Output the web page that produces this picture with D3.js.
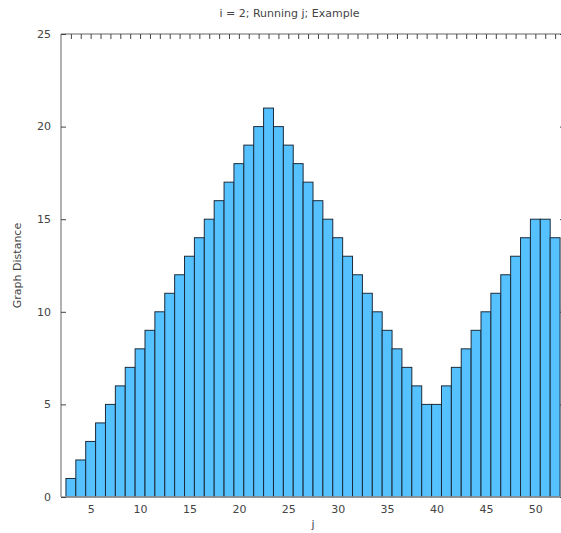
<!DOCTYPE html>
<html><head><meta charset="utf-8">
<script src="https://cdn.jsdelivr.net/npm/d3@7"></script>
<style>
body{margin:0;background:#fff;}
text{font-family:"DejaVu Sans",sans-serif;}
</style></head>
<body><svg id="c" width="561" height="533"></svg>
<script>
const jValues = d3.range(3, 53);
const distances = [1,2,3,4,5,6,7,8,9,10,11,12,13,14,15,16,17,18,19,20,21,20,19,18,17,16,15,14,13,12,11,10,9,8,7,6,5,5,6,7,8,9,10,11,12,13,14,15,15,14];
const xTicks = [5,10,15,20,25,30,35,40,45,50];
const yTicks = [0,5,10,15,20,25];
const title = "i = 2; Running j; Example";
const xLabel = "j";
const yLabel = "Graph Distance";

const svg = d3.select("#c");
const L = 61, R = 565, T = 34, B = 497;
const x = d3.scaleLinear().domain([2, 53]).range([L, R]);
const y = d3.scaleLinear().domain([0, 25]).range([B, T]);
const data = jValues.map((j, i) => ({j, v: distances[i]}));

// bars
svg.append("g").selectAll("rect").data(data).join("rect")
  .attr("x", d => x(d.j - 0.5))
  .attr("width", d => x(d.j + 0.5) - x(d.j - 0.5))
  .attr("y", d => y(d.v))
  .attr("height", d => y(0) - y(d.v))
  .attr("fill", "#56c1ff")
  .attr("stroke", "#1b2b3a")
  .attr("stroke-width", 1);

const axisColor = "#999";
// frame lines
svg.append("line").attr("x1", L).attr("x2", L).attr("y1", T).attr("y2", B).attr("stroke", axisColor).attr("stroke-width", 1.5);
svg.append("line").attr("x1", L).attr("x2", R).attr("y1", B).attr("y2", B).attr("stroke", axisColor).attr("stroke-width", 1.5);
svg.append("line").attr("x1", L).attr("x2", R).attr("y1", T).attr("y2", T).attr("stroke", axisColor).attr("stroke-width", 1.5);
svg.append("line").attr("x1", R).attr("x2", R).attr("y1", T).attr("y2", B).attr("stroke", axisColor).attr("stroke-width", 1.5);

// top ticks at every j
const topAxis = d3.axisBottom(x).tickValues(jValues).tickSize(5).tickFormat("");
const gTop = svg.append("g").attr("transform", `translate(0,${T})`).call(topAxis);
gTop.select(".domain").remove();
gTop.selectAll("line").attr("stroke", "#444");

// bottom axis labels
const bottomAxis = d3.axisBottom(x).tickValues(xTicks).tickSize(0).tickPadding(8);
const gB = svg.append("g").attr("transform", `translate(0,${B})`).call(bottomAxis);
gB.select(".domain").remove();
gB.selectAll("text").attr("fill", "#444").attr("font-size", 11).attr("font-family", "DejaVu Sans, sans-serif");

// left axis
const leftAxis = d3.axisRight(y).tickValues(yTicks).tickSize(5).tickFormat("");
const gL = svg.append("g").attr("transform", `translate(${L},0)`).call(leftAxis);
gL.select(".domain").remove();
gL.selectAll("line").attr("stroke", "#444");
svg.append("g").selectAll("text").data(yTicks).join("text")
  .attr("x", L - 10).attr("y", d => y(d)).attr("dy", "0.35em")
  .attr("text-anchor", "end").attr("font-size", 11).attr("fill", "#444")
  .text(d => d);

// right axis ticks
const rightAxis = d3.axisLeft(y).tickValues(yTicks).tickSize(5).tickFormat("");
const gR = svg.append("g").attr("transform", `translate(${R},0)`).call(rightAxis);
gR.select(".domain").remove();
gR.selectAll("line").attr("stroke", "#444");

// titles
svg.append("text").attr("x", 289.5).attr("y", 17).attr("text-anchor", "middle")
  .attr("font-size", 11).attr("fill", "#444").text(title);
svg.append("text").attr("x", x(27.5)).attr("y", 528).attr("text-anchor", "middle")
  .attr("font-size", 11).attr("fill", "#444").text(xLabel);
svg.append("text").attr("transform", `translate(21,${(T + B) / 2}) rotate(-90)`)
  .attr("text-anchor", "middle").attr("font-size", 11).attr("fill", "#444").text(yLabel);
</script></body></html>
